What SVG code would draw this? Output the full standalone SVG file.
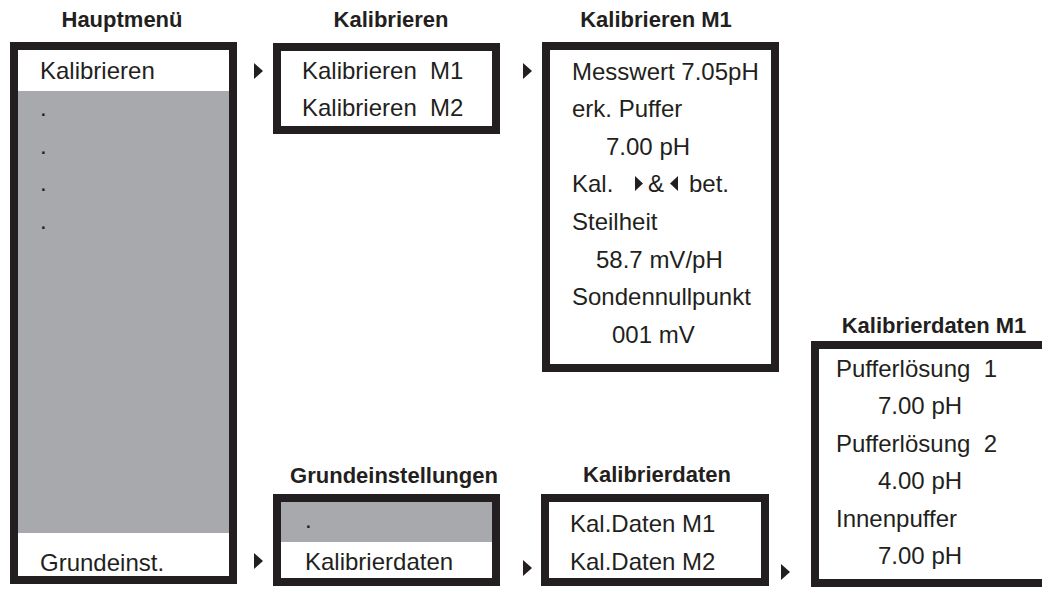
<svg xmlns="http://www.w3.org/2000/svg" width="1042" height="591" viewBox="0 0 1042 591">
<style>
.box{fill:#fff;stroke:#231f20;stroke-width:8}
.gray{fill:#a7a9ac}
.t{font-family:"Liberation Sans",Arial,sans-serif;font-size:24px;fill:#231f20;white-space:pre}
.h{font-family:"Liberation Sans",Arial,sans-serif;font-size:22px;font-weight:bold;fill:#231f20;text-anchor:middle}
.ar{fill:#231f20}
</style>
<rect width="1042" height="591" fill="#fff"/>
<g id="hauptmenue">
<text class="h" x="122" y="27">Hauptmenü</text>
<rect class="box" x="14" y="46" width="219" height="534"/>
<rect class="gray" x="18" y="91" width="211" height="442"/>
<text class="t" x="40" y="79">Kalibrieren</text>
<text class="t" x="40" y="116">.</text>
<text class="t" x="40" y="154">.</text>
<text class="t" x="40" y="191">.</text>
<text class="t" x="40" y="229">.</text>
<text class="t" x="40" y="571">Grundeinst.</text>
</g>
<g id="kalibrieren">
<text class="h" x="391" y="27">Kalibrieren</text>
<rect class="box" x="277" y="47" width="219" height="83"/>
<text class="t" x="302" y="79" xml:space="preserve">Kalibrieren  M1</text>
<text class="t" x="302" y="116" xml:space="preserve">Kalibrieren  M2</text>
</g>
<g id="kalibrieren-m1">
<text class="h" x="656" y="27">Kalibrieren M1</text>
<rect class="box" x="546" y="46" width="229" height="322"/>
<text class="t" x="572" y="80">Messwert 7.05pH</text>
<text class="t" x="572" y="117">erk. Puffer</text>
<text class="t" x="606" y="155">7.00 pH</text>
<text class="t" x="572" y="192">Kal.</text>
<polygon class="ar" points="635,176 643,183.5 635,191"/>
<text class="t" x="648" y="192">&amp;</text>
<polygon class="ar" points="678,176 670,183.5 678,191"/>
<text class="t" x="689" y="192">bet.</text>
<text class="t" x="572" y="230">Steilheit</text>
<text class="t" x="596" y="268">58.7 mV/pH</text>
<text class="t" x="572" y="305">Sondennullpunkt</text>
<text class="t" x="612" y="343">001 mV</text>
</g>
<g id="grundeinstellungen">
<text class="h" x="394" y="483">Grundeinstellungen</text>
<rect class="box" x="277" y="498" width="219" height="84"/>
<rect class="gray" x="281" y="502" width="211" height="40"/>
<text class="t" x="305" y="528">.</text>
<text class="t" x="305" y="570">Kalibrierdaten</text>
</g>
<g id="kalibrierdaten">
<text class="h" x="657" y="482">Kalibrierdaten</text>
<rect class="box" x="545" y="498" width="220" height="84"/>
<text class="t" x="570" y="532">Kal.Daten M1</text>
<text class="t" x="570" y="570">Kal.Daten M2</text>
</g>
<g id="kalibrierdaten-m1">
<text class="h" x="934" y="333">Kalibrierdaten M1</text>
<rect class="box" x="815" y="345" width="240" height="238"/>
<text class="t" x="836" y="377" xml:space="preserve">Pufferlösung  1</text>
<text class="t" x="878" y="414">7.00 pH</text>
<text class="t" x="836" y="452" xml:space="preserve">Pufferlösung  2</text>
<text class="t" x="878" y="489">4.00 pH</text>
<text class="t" x="836" y="527">Innenpuffer</text>
<text class="t" x="878" y="564">7.00 pH</text>
</g>
<g id="connectors">
<polygon class="ar" points="254,63 263,71 254,79"/>
<polygon class="ar" points="523,63 532,71 523,79"/>
<polygon class="ar" points="254,553 263,561 254,569"/>
<polygon class="ar" points="523,560 532,568 523,576"/>
<polygon class="ar" points="781,564 790,572 781,580"/>
</g>
</svg>
